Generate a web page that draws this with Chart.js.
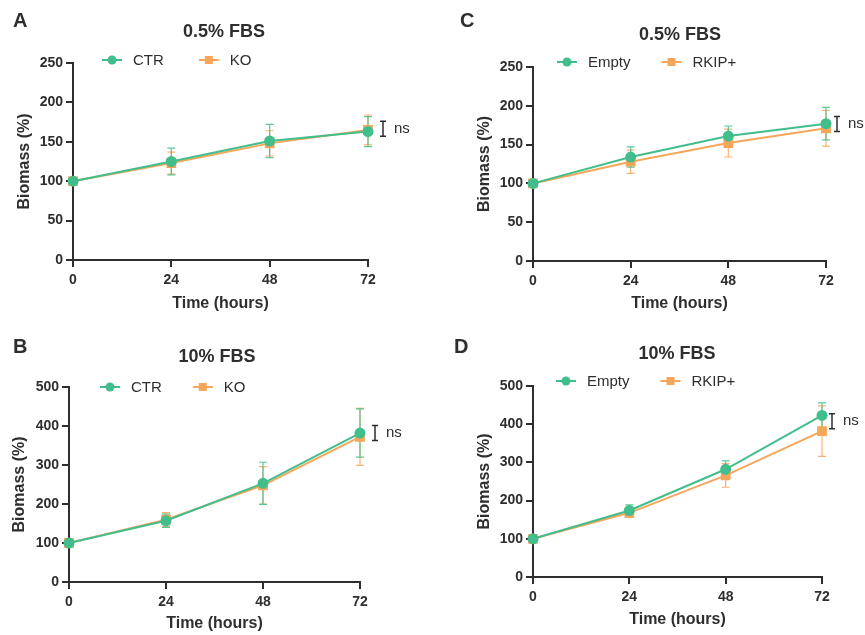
<!DOCTYPE html>
<html>
<head>
<meta charset="utf-8">
<script src="https://cdn.jsdelivr.net/npm/chart.js@4.4.1/dist/chart.umd.min.js"></script>
<style>
  html, body { margin: 0; padding: 0; background: #fff; }
  #wrap { position: relative; width: 865px; height: 635px; }
  canvas { position: absolute; }
</style>
</head>
<body>
<div id="wrap">
  <canvas id="panelA" width="432" height="317" style="left:0;top:0"></canvas>
  <canvas id="panelC" width="433" height="317" style="left:432px;top:0"></canvas>
  <canvas id="panelB" width="432" height="318" style="left:0;top:317px"></canvas>
  <canvas id="panelD" width="433" height="318" style="left:432px;top:317px"></canvas>
</div>
<script>
  // time points (hours) shared by all four growth curves
  const hours = [0, 24, 48, 72];

  // A: knockout vs control, 0.5% FBS (mean, error)
  const ctrLow = [100, 125, 151, 163];
  const ctrLowErr = [0, 17, 21, 19];
  const koLow = [100, 123, 148, 165];
  const koLowErr = [0, 14, 16, 19];

  // B: knockout vs control, 10% FBS
  const ctrHigh = [100, 157, 253, 382];
  const ctrHighErr = [0, 17, 54, 62];
  const koHigh = [100, 160, 248, 372];
  const koHighErr = [0, 18, 48, 73];

  // C: RKIP overexpression vs empty vector, 0.5% FBS
  const emptyLow = [100, 134, 161, 177];
  const emptyLowErr = [0, 13, 13, 21];
  const rkipLow = [100, 128, 152, 171];
  const rkipLowErr = [0, 15, 18, 23];

  // D: RKIP overexpression vs empty vector, 10% FBS
  const emptyHigh = [100, 174, 282, 423];
  const emptyHighErr = [0, 15, 22, 33];
  const rkipHigh = [100, 168, 266, 382];
  const rkipHighErr = [0, 12, 31, 66];

  const yTicksLow = { max: 250, step: 50 };
  const yTicksHigh = { max: 500, step: 100 };

  const GREEN = '#41be8b';
  const ORANGE = '#f6a65a';
  const INK = '#2e2e2e';
  const FONT = '"Liberation Sans", Arial, Helvetica, sans-serif';

  Chart.defaults.font.family = FONT;
  Chart.defaults.color = INK;

  function series(label, values, errors, color, shape) {
    return {
      label, errors,
      data: hours.map((h, i) => ({ x: h, y: values[i] })),
      borderColor: color, backgroundColor: color,
      pointBackgroundColor: color, pointBorderColor: color,
      pointStyle: shape, pointRadius: shape === 'rect' ? 5.5 : 4.5,
      borderWidth: 2, tension: 0, clip: false,
    };
  }

  function drawMarker(ctx, shape, x, y, color) {
    ctx.fillStyle = color;
    if (shape === 'rect') {
      ctx.fillRect(x - 4, y - 4, 8, 8);
    } else {
      ctx.beginPath(); ctx.arc(x, y, 4.5, 0, Math.PI * 2); ctx.fill();
    }
  }

  // error bars, panel letter, title, line+marker legend and "ns" bracket
  const decorPlugin = {
    id: 'decor',
    beforeDatasetsDraw(chart) {
      const { ctx, scales: { x, y } } = chart;
      ctx.save();
      for (let d = chart.data.datasets.length - 1; d >= 0; d--) {
        const ds = chart.data.datasets[d];
        ctx.strokeStyle = ds.borderColor;
        ctx.globalAlpha = 0.85;
        ctx.lineWidth = 1.2;
        ds.data.forEach((pt, i) => {
          const e = ds.errors[i];
          if (!e) return;
          const px = x.getPixelForValue(pt.x);
          const top = y.getPixelForValue(pt.y + e);
          const bot = y.getPixelForValue(pt.y - e);
          ctx.beginPath();
          ctx.moveTo(px, top); ctx.lineTo(px, bot);
          ctx.moveTo(px - 4, top); ctx.lineTo(px + 4, top);
          ctx.moveTo(px - 4, bot); ctx.lineTo(px + 4, bot);
          ctx.stroke();
        });
      }
      ctx.restore();
    },
    afterDraw(chart, args, p) {
      const { ctx, scales: { x, y } } = chart;
      ctx.save();
      ctx.fillStyle = INK;
      ctx.textBaseline = 'middle';

      ctx.font = 'bold 20px ' + FONT;
      ctx.textAlign = 'left';
      ctx.fillText(p.letter, p.letterAt[0], p.letterAt[1]);

      ctx.font = 'bold 18px ' + FONT;
      ctx.textAlign = 'center';
      ctx.fillText(p.title, p.titleAt[0], p.titleAt[1]);

      // legend: short line with the series marker, then the label
      ctx.font = '15px ' + FONT;
      ctx.textAlign = 'left';
      let lx = p.legendAt[0];
      const ly = p.legendAt[1];
      chart.data.datasets.forEach(ds => {
        ctx.strokeStyle = ds.borderColor;
        ctx.lineWidth = 2;
        ctx.beginPath(); ctx.moveTo(lx, ly); ctx.lineTo(lx + 20, ly); ctx.stroke();
        drawMarker(ctx, ds.pointStyle, lx + 10, ly, ds.borderColor);
        ctx.fillStyle = INK;
        ctx.fillText(ds.label, lx + 31, ly + 1);
        lx += 31 + ctx.measureText(ds.label).width + p.legendGap;
      });

      // significance bracket beside the last time point
      const last = chart.data.datasets.map(ds => ds.data[ds.data.length - 1].y);
      const cy = y.getPixelForValue((last[0] + last[1]) / 2) - 2;
      const bx = x.getPixelForValue(hours[hours.length - 1]) + p.nsDx;
      ctx.strokeStyle = INK;
      ctx.lineWidth = 1.5;
      ctx.beginPath();
      ctx.moveTo(bx, cy - 7.5); ctx.lineTo(bx, cy + 7.5);
      ctx.moveTo(bx - 3, cy - 7.5); ctx.lineTo(bx + 3, cy - 7.5);
      ctx.moveTo(bx - 3, cy + 7.5); ctx.lineTo(bx + 3, cy + 7.5);
      ctx.stroke();
      ctx.font = '15px ' + FONT;
      ctx.fillText('ns', bx + 11, cy);
      ctx.restore();
    }
  };

  const panels = [
    {
      id: 'panelA', letter: 'A', title: '0.5% FBS', yTicks: yTicksLow,
      datasets: [series('CTR', ctrLow, ctrLowErr, GREEN, 'circle'), series('KO', koLow, koLowErr, ORANGE, 'rect')],
      w: 432, h: 317, area: { l: 73, t: 63, r: 368, b: 260 },
      letterAt: [13, 21], titleAt: [224, 32], legendAt: [102, 60], legendGap: 35,
      yTitlePad: 15.4, xTitlePad: 3.4, nsDx: 15,
    },
    {
      id: 'panelC', letter: 'C', title: '0.5% FBS', yTicks: yTicksLow,
      datasets: [series('Empty', emptyLow, emptyLowErr, GREEN, 'circle'), series('RKIP+', rkipLow, rkipLowErr, ORANGE, 'rect')],
      w: 433, h: 317, area: { l: 101, t: 67, r: 394, b: 261 },
      letterAt: [28, 21], titleAt: [248, 35], legendAt: [125, 62], legendGap: 31,
      yTitlePad: 43.4, xTitlePad: 3.4, nsDx: 11,
    },
    {
      id: 'panelB', letter: 'B', title: '10% FBS', yTicks: yTicksHigh,
      datasets: [series('CTR', ctrHigh, ctrHighErr, GREEN, 'circle'), series('KO', koHigh, koHighErr, ORANGE, 'rect')],
      w: 432, h: 318, area: { l: 69, t: 70, r: 360, b: 265 },
      letterAt: [13, 30], titleAt: [217, 40], legendAt: [100, 70], legendGap: 31,
      yTitlePad: 10.4, xTitlePad: 1.4, nsDx: 15,
    },
    {
      id: 'panelD', letter: 'D', title: '10% FBS', yTicks: yTicksHigh,
      datasets: [series('Empty', emptyHigh, emptyHighErr, GREEN, 'circle'), series('RKIP+', rkipHigh, rkipHighErr, ORANGE, 'rect')],
      w: 433, h: 318, area: { l: 101, t: 69, r: 390, b: 260 },
      letterAt: [22, 30], titleAt: [245, 37], legendAt: [124, 64], legendGap: 31,
      yTitlePad: 43.4, xTitlePad: 5.4, nsDx: 10,
    },
  ];

  panels.forEach(p => {
    const axisCommon = {
      grid: { display: true, drawOnChartArea: false, drawTicks: true, tickLength: 7, color: INK, lineWidth: 2 },
      border: { display: true, color: INK, width: 2 },
    };
    new Chart(document.getElementById(p.id), {
      type: 'line',
      data: { datasets: p.datasets },
      options: {
        responsive: false, animation: false, devicePixelRatio: 1,
        layout: { padding: { top: p.area.t, right: p.w - p.area.r, left: 0, bottom: 0 } },
        plugins: { legend: { display: false }, tooltip: { enabled: false }, decor: p },
        scales: {
          x: {
            type: 'linear', min: 0, max: 72, ...axisCommon,
            ticks: { stepSize: 24, padding: 5, color: INK, font: { size: 14, weight: 'bold' } },
            title: { display: true, text: 'Time (hours)', color: INK, font: { size: 16, weight: 'bold' }, padding: { top: 0, bottom: p.xTitlePad } },
            afterFit(scale) { scale.height = p.h - p.area.b; },
          },
          y: {
            type: 'linear', min: 0, max: p.yTicks.max, ...axisCommon,
            ticks: { stepSize: p.yTicks.step, padding: 3, color: INK, font: { size: 14, weight: 'bold' } },
            title: { display: true, text: 'Biomass (%)', color: INK, font: { size: 16, weight: 'bold' }, padding: { top: p.yTitlePad, bottom: 0 } },
            afterFit(scale) { scale.width = p.area.l; },
          },
        },
      },
      plugins: [decorPlugin],
    });
  });
</script>
</body>
</html>
